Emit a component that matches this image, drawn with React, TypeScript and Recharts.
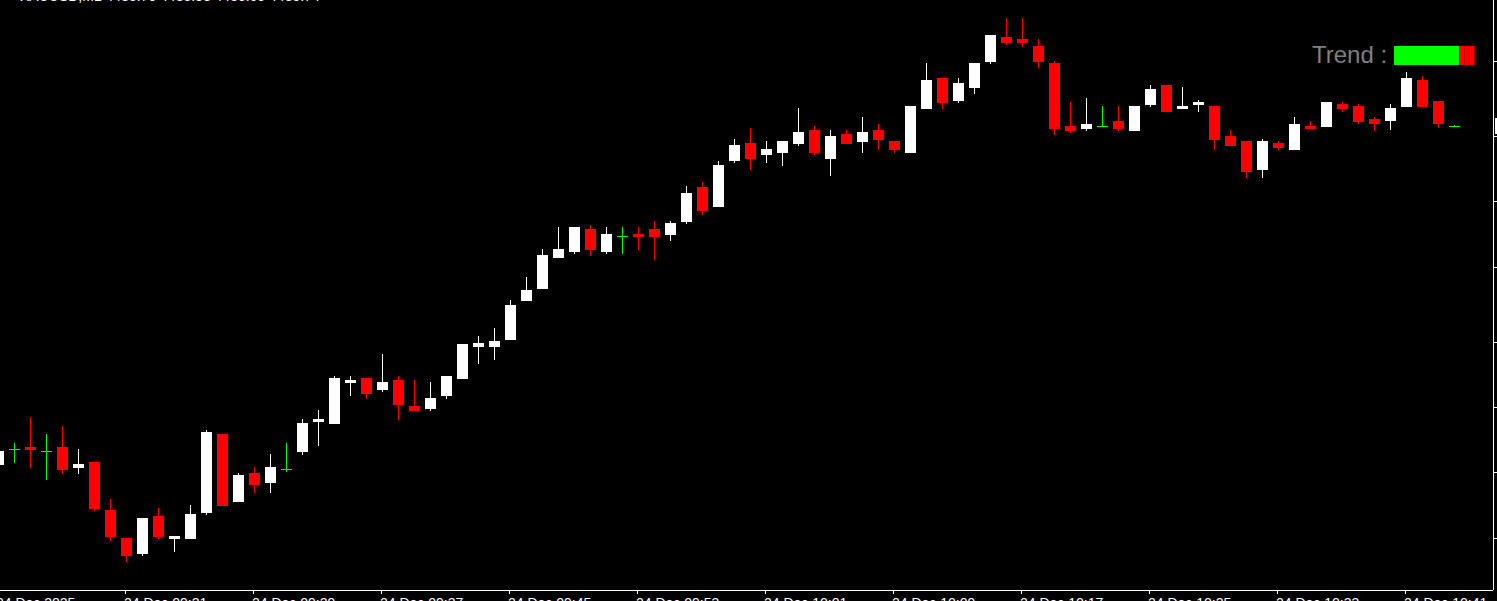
import { ComposedChart, Bar, XAxis, YAxis, ReferenceLine } from 'recharts';

// 1-minute candles, 24 Dec 2025 (last two slots are the empty chart shift)
const TIMES = [
  '09:13', '09:14', '09:15', '09:16', '09:17', '09:18', '09:19', '09:20', '09:21', '09:22',
  '09:23', '09:24', '09:25', '09:26', '09:27', '09:28', '09:29', '09:30', '09:31', '09:32',
  '09:33', '09:34', '09:35', '09:36', '09:37', '09:38', '09:39', '09:40', '09:41', '09:42',
  '09:43', '09:44', '09:45', '09:46', '09:47', '09:48', '09:49', '09:50', '09:51', '09:52',
  '09:53', '09:54', '09:55', '09:56', '09:57', '09:58', '09:59', '10:00', '10:01', '10:02',
  '10:03', '10:04', '10:05', '10:06', '10:07', '10:08', '10:09', '10:10', '10:11', '10:12',
  '10:13', '10:14', '10:15', '10:16', '10:17', '10:18', '10:19', '10:20', '10:21', '10:22',
  '10:23', '10:24', '10:25', '10:26', '10:27', '10:28', '10:29', '10:30', '10:31', '10:32',
  '10:33', '10:34', '10:35', '10:36', '10:37', '10:38', '10:39', '10:40', '10:41', '10:42',
  '10:43', '10:44', '10:45', '10:46',
];

const OPEN = [
  4482.35, 4482.51, 4482.53, 4482.49, 4482.53, 4482.32, 4482.38, 4481.90, 4481.62, 4481.46,
  4481.84, 4481.61, 4481.61, 4481.87, 4482.66, 4481.98, 4482.27, 4482.17, 4482.31, 4482.48,
  4482.78, 4482.76, 4483.17, 4483.22, 4483.10, 4483.20, 4482.94, 4482.91, 4483.04, 4483.21,
  4483.53, 4483.53, 4483.60, 4483.99, 4484.11, 4484.42, 4484.48, 4484.71, 4484.48, 4484.64,
  4484.66, 4484.71, 4484.65, 4484.78, 4485.13, 4484.93, 4485.39, 4485.57, 4485.45, 4485.47,
  4485.56, 4485.70, 4485.41, 4485.66, 4485.58, 4485.70, 4485.59, 4485.47, 4485.91, 4486.22,
  4485.99, 4486.12, 4486.38, 4486.63, 4486.61, 4486.54, 4486.37, 4485.74, 4485.71, 4485.74,
  4485.79, 4485.69, 4485.95, 4486.15, 4485.91, 4485.95, 4485.94, 4485.64, 4485.59, 4485.30,
  4485.57, 4485.50, 4485.74, 4485.73, 4485.96, 4485.94, 4485.81, 4485.79, 4485.93, 4486.20,
  4485.99, 4485.74,
];

const HIGH = [
  4482.51, 4482.57, 4482.83, 4482.66, 4482.74, 4482.51, 4482.38, 4482.01, 4481.62, 4481.82,
  4481.92, 4481.64, 4481.95, 4482.70, 4482.66, 4482.27, 4482.33, 4482.46, 4482.57, 4482.81,
  4482.90, 4483.24, 4483.24, 4483.22, 4483.46, 4483.24, 4483.20, 4483.18, 4483.24, 4483.56,
  4483.64, 4483.72, 4484.00, 4484.23, 4484.51, 4484.73, 4484.73, 4484.75, 4484.73, 4484.73,
  4484.73, 4484.79, 4484.79, 4485.14, 4485.18, 4485.39, 4485.61, 4485.72, 4485.59, 4485.59,
  4485.92, 4485.74, 4485.70, 4485.70, 4485.83, 4485.76, 4485.59, 4485.94, 4486.37, 4486.22,
  4486.22, 4486.37, 4486.65, 4486.82, 4486.82, 4486.61, 4486.39, 4485.98, 4486.02, 4485.94,
  4485.94, 4485.94, 4486.15, 4486.15, 4486.13, 4486.00, 4485.94, 4485.70, 4485.59, 4485.61,
  4485.59, 4485.83, 4485.79, 4485.98, 4485.98, 4485.96, 4485.83, 4485.96, 4486.28, 4486.24,
  4485.99, 4485.75,
];

const LOW = [
  4482.33, 4482.37, 4482.32, 4482.20, 4482.26, 4482.26, 4481.89, 4481.59, 4481.38, 4481.44,
  4481.61, 4481.48, 4481.61, 4481.85, 4481.94, 4481.98, 4482.07, 4482.07, 4482.28, 4482.45,
  4482.54, 4482.76, 4483.04, 4483.01, 4483.08, 4482.80, 4482.89, 4482.89, 4483.01, 4483.21,
  4483.36, 4483.40, 4483.60, 4483.99, 4484.11, 4484.42, 4484.46, 4484.44, 4484.46, 4484.46,
  4484.50, 4484.40, 4484.59, 4484.76, 4484.85, 4484.93, 4485.37, 4485.30, 4485.37, 4485.34,
  4485.54, 4485.45, 4485.24, 4485.56, 4485.47, 4485.50, 4485.47, 4485.47, 4485.91, 4485.91,
  4485.97, 4486.06, 4486.36, 4486.55, 4486.53, 4486.32, 4485.65, 4485.67, 4485.69, 4485.73,
  4485.69, 4485.69, 4485.93, 4485.88, 4485.91, 4485.88, 4485.50, 4485.54, 4485.22, 4485.22,
  4485.50, 4485.50, 4485.71, 4485.73, 4485.88, 4485.76, 4485.69, 4485.70, 4485.93, 4485.93,
  4485.72, 4485.74,
];

const CLOSE = [
  4482.49, 4482.51, 4482.50, 4482.49, 4482.30, 4482.36, 4481.91, 4481.63, 4481.44, 4481.82,
  4481.63, 4481.64, 4481.86, 4482.68, 4481.94, 4482.25, 4482.15, 4482.33, 4482.31, 4482.77,
  4482.81, 4483.22, 4483.20, 4483.06, 4483.18, 4482.95, 4482.89, 4483.02, 4483.24, 4483.56,
  4483.57, 4483.59, 4483.95, 4484.10, 4484.45, 4484.51, 4484.73, 4484.50, 4484.66, 4484.64,
  4484.63, 4484.63, 4484.77, 4485.07, 4484.89, 4485.35, 4485.55, 4485.41, 4485.51, 4485.59,
  4485.68, 4485.47, 4485.64, 4485.56, 4485.68, 4485.60, 4485.50, 4485.94, 4486.20, 4485.97,
  4486.17, 4486.37, 4486.65, 4486.57, 4486.57, 4486.38, 4485.71, 4485.69, 4485.76, 4485.74,
  4485.71, 4485.94, 4486.11, 4485.88, 4485.94, 4485.98, 4485.60, 4485.54, 4485.28, 4485.59,
  4485.52, 4485.76, 4485.71, 4485.98, 4485.91, 4485.78, 4485.76, 4485.92, 4486.22, 4485.93,
  4485.76, 4485.74,
];

const PRICE_TICKS = [4486.39, 4485.64, 4484.99, 4484.33, 4483.58, 4482.93, 4482.28, 4481.62];
const PRICE_DOMAIN = [4481.1, 4487.0];
const LAST_PRICE = 4485.74;
const SYMBOL_LINE = 'XAUUSD,M1  4485.70 4485.83 4485.69 4485.74';
const DATE_LABEL = '24 Dec 2025';
const DAY_PREFIX = '24 Dec ';

const data = TIMES.map((t, i) => ({
  t,
  open: OPEN[i],
  high: HIGH[i],
  low: LOW[i],
  close: CLOSE[i],
}));

function Candle(props: any) {
  const { x, y, height, payload } = props;
  if (payload == null || payload.high == null) return null;
  const { open, high, low, close } = payload;
  const top = Math.min(y, y + height);
  const bot = Math.max(y, y + height);
  const span = high - low;
  const toY = (p: number) => (span === 0 ? top : top + ((high - p) / span) * (bot - top));
  const color = close > open ? '#ffffff' : close < open ? '#ff0000' : '#00ff00';
  const wTop = Math.round(toY(high));
  const wBot = Math.round(toY(low));
  const bTop = Math.round(toY(Math.max(open, close)));
  const bBot = Math.round(toY(Math.min(open, close)));
  const bx = Math.round(x);
  return (
    <g>
      <rect x={bx + 8} y={wTop} width={1} height={Math.max(1, wBot - wTop)} fill={color} />
      <rect x={bx + 3} y={bTop} width={11} height={Math.max(1, bBot - bTop)} fill={color} />
    </g>
  );
}

function TimeTick(props: any) {
  const { x, payload } = props;
  const label = payload.value === TIMES[0] ? DATE_LABEL : DAY_PREFIX + payload.value;
  return (
    <text x={x - 1} y={608} fill="#ffffff" fontSize={14} fontFamily="Liberation Sans, Arial, sans-serif" textAnchor="start">
      {label}
    </text>
  );
}

export default function App() {
  return (
    <div style={{ position: 'fixed', left: 0, top: 0, width: 1497, height: 601, background: '#000', overflow: 'hidden' }}>
      <style>{`.recharts-cartesian-axis-line, .recharts-cartesian-axis-tick-line { shape-rendering: crispEdges; }`}</style>
      <div style={{ position: 'absolute', left: -11, top: 0 }}>
        <ComposedChart width={1574} height={620} data={data} margin={{ top: 0, right: 0, bottom: 0, left: 0 }}>
          <XAxis
            dataKey="t"
            height={30}
            interval={7}
            tickSize={4}
            axisLine={{ stroke: '#ffffff' }}
            tickLine={{ stroke: '#ffffff' }}
            tick={<TimeTick />}
          />
          <YAxis
            orientation="right"
            type="number"
            width={70}
            domain={PRICE_DOMAIN}
            allowDataOverflow
            ticks={PRICE_TICKS}
            tickSize={4}
            axisLine={{ stroke: '#ffffff' }}
            tickLine={{ stroke: '#ffffff' }}
            tick={{ fill: '#ffffff', fontSize: 12 }}
            tickFormatter={(v: number) => v.toFixed(2)}
          />
          <ReferenceLine
            y={LAST_PRICE}
            stroke="none"
            label={(p: any) => (
              <rect x={p.viewBox.x + p.viewBox.width + 2} y={p.viewBox.y - 8} width={60} height={16} fill="#ffffff" />
            )}
          />
          <Bar
            dataKey={(d: any) => (d.high == null ? null : [d.low, d.high])}
            barSize={16}
            shape={<Candle />}
            isAnimationActive={false}
          />
        </ComposedChart>
      </div>
      <svg width={1497} height={601} style={{ position: 'absolute', left: 0, top: 0, pointerEvents: 'none' }}>
        <text x={20} y={1} fill="#ffffff" fontSize={14} fontFamily="Liberation Sans, Arial, sans-serif">
          {SYMBOL_LINE}
        </text>
        <text x={1312} y={63} fill="#808080" fontSize={24} fontFamily="Liberation Sans, Arial, sans-serif">
          Trend :
        </text>
        <rect x={1394} y={46} width={65} height={19} fill="#00ff00" />
        <rect x={1459} y={46} width={16} height={19} fill="#ff0000" />
        <rect x={1464} y={46} width={1} height={19} fill="#c80000" />
        <rect x={1469} y={46} width={1} height={19} fill="#c80000" />
        <rect x={1474} y={46} width={1} height={19} fill="#a00000" />
      </svg>
    </div>
  );
}
